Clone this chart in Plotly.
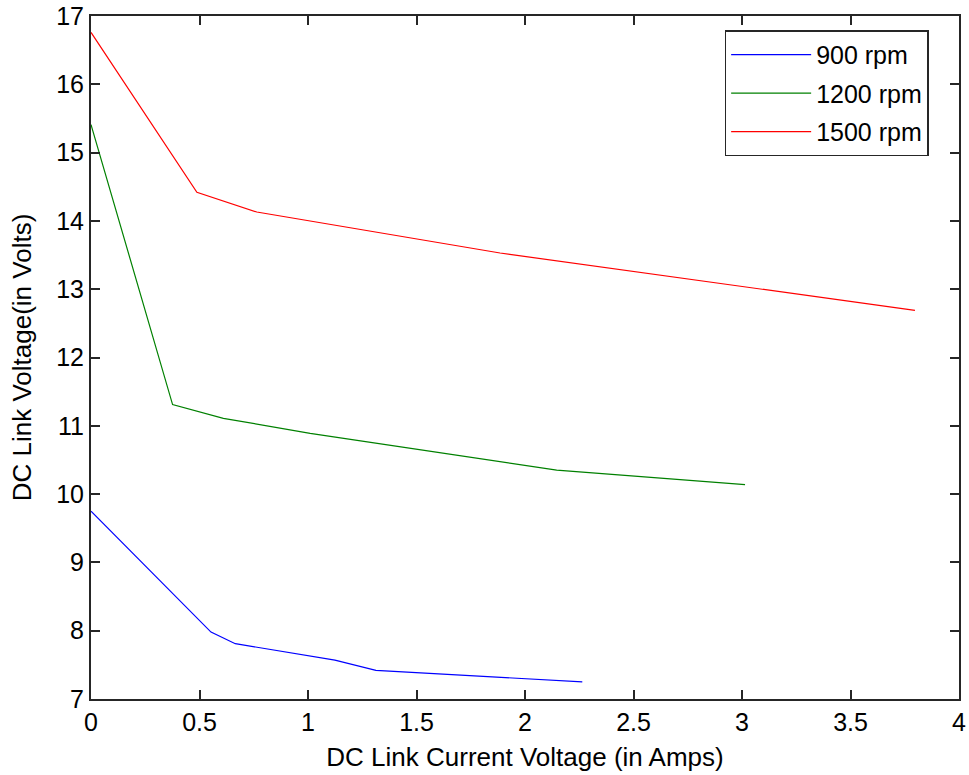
import plotly.graph_objects as go

# Data
x_900 = [0.0, 0.553, 0.665, 1.124, 1.313, 2.264]
y_900 = [9.75, 7.98, 7.81, 7.57, 7.42, 7.25]

x_1200 = [0.0, 0.376, 0.61, 1.01, 2.146, 3.014]
y_1200 = [15.41, 11.31, 11.11, 10.89, 10.35, 10.14]

x_1500 = [0.0, 0.488, 0.764, 1.27, 1.885, 3.797]
y_1500 = [16.76, 14.42, 14.13, 13.86, 13.53, 12.69]

series_names = ["900 rpm", "1200 rpm", "1500 rpm"]
series_colors = ["#0000FF", "#008000", "#FF0000"]

x_ticks = [0, 0.5, 1, 1.5, 2, 2.5, 3, 3.5, 4]
x_tick_labels = ["0", "0.5", "1", "1.5", "2", "2.5", "3", "3.5", "4"]
y_ticks = list(range(7, 18))

FONT = "Liberation Sans, Arial, sans-serif"
FS = 25

fig = go.Figure()
for i, (xs, ys) in enumerate([(x_900, y_900), (x_1200, y_1200), (x_1500, y_1500)]):
    fig.add_trace(go.Scatter(
        x=xs, y=ys, mode="lines", name=series_names[i],
        legendgroup=series_names[i],
        line=dict(color=series_colors[i], width=1.2),
    ))

axis_common = dict(
    showgrid=False, zeroline=False, showline=True, linecolor="#262626", linewidth=2,
    mirror="ticks", ticks="inside", ticklen=9, tickcolor="#262626", tickwidth=2,
    tickfont=dict(family=FONT, size=FS, color="black"), automargin=False,
)

fig.update_layout(
    width=969, height=775,
    margin=dict(l=91, r=10, t=16, b=76),
    paper_bgcolor="white", plot_bgcolor="white",
    font=dict(family=FONT, size=FS, color="black"),
    xaxis=dict(range=[0, 4], tickvals=x_ticks, ticktext=x_tick_labels,
               title=dict(text="DC Link Current Voltage (in Amps)", standoff=13,
                          font=dict(family=FONT, size=26)),
               **axis_common),
    yaxis=dict(range=[7, 17], tickvals=y_ticks,
               title=dict(text="DC Link Voltage(in Volts)", standoff=17,
                          font=dict(family=FONT, size=26)),
               **axis_common),
    legend=dict(x=0.730, y=0.979, xanchor="left", yanchor="top",
                bgcolor="white", bordercolor="#262626", borderwidth=1.5,
                font=dict(family=FONT, size=FS), tracegroupgap=3,
                itemwidth=80, entrywidth=135, entrywidthmode="pixels"),
    showlegend=True,
)

fig.write_html("out.html")
